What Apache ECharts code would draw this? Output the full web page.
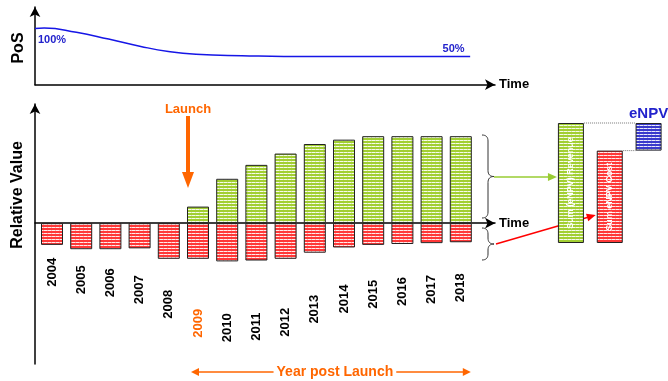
<!DOCTYPE html>
<html>
<head>
<meta charset="utf-8">
<script src="https://cdn.jsdelivr.net/npm/echarts@6/dist/echarts.min.js"></script>
<style>
  html, body { margin: 0; padding: 0; background: #fff; }
  #c { width: 668px; height: 381px; }
</style>
</head>
<body>
<div id="c"></div>
<script>
// ---- data ----
// probability of success over the development/commercial horizon (time as % of horizon)
const posTime  = [0, 2, 9, 16, 23, 29, 35, 45, 60, 91, 94.6];
const posValue = [100, 100.5, 93, 81, 68, 59, 54, 51.5, 50, 50, 50];

const years = ['2004', '2005', '2006', '2007', '2008', '2009', '2010', '2011',
               '2012', '2013', '2014', '2015', '2016', '2017', '2018'];
const launchYear = '2009';
// relative yearly revenue (positive) and cost (negative)
const revenue = ['-', '-', '-', '-', '-', 19, 51, 67, 80, 91, 96, 100, 100, 100, 100];
const cost    = [-25, -30, -30, -29, -41, -41, -44, -43, -41, -34, -28, -25, -24, -23, -22];

// summary waterfall
const npvCategories = ['Sum (eNPV) Revenue', 'Sum eNPV Cost', 'eNPV'];
const npvRevenue = 100;
const npvCost = 77;

// ---- layout ----
// how far each year label hangs below its cost bar
const yearLabelDrop = [13, 16, 19, 27, 31, 50, 52, 52, 49, 42, 37, 35, 33, 32, 31];

const FONT = '"Liberation Sans", Arial, sans-serif';
const ORANGE = '#FF6600';
const LINE_BLUE = '#1616E6';
const TEXT_BLUE = '#2222CC';

function stripes(base) {
  const c = document.createElement('canvas');
  c.width = 4; c.height = 3;
  const g = c.getContext('2d');
  g.fillStyle = base; g.fillRect(0, 0, 4, 3);
  g.fillStyle = 'rgba(255,255,255,0.9)'; g.fillRect(0, 2, 4, 1);
  g.fillStyle = base; g.globalAlpha = 0.35; g.fillRect(3, 2, 1, 1);
  return { image: c, repeat: 'repeat' };
}
const greenFill = stripes('#A2CF33');
const redFill = stripes('#FF3838');
const blueFill = stripes('#3A3ACC');

const arrowAxisLine = {
  show: true, onZero: true,
  symbol: ['none', 'arrow'], symbolSize: [8, 10],
  lineStyle: { color: '#000', width: 1.5 }
};
const timeName = {
  name: 'Time', nameLocation: 'end', nameGap: 4,
  nameTextStyle: { fontWeight: 'bold', fontSize: 13, color: '#000', fontFamily: FONT }
};
const bare = { axisTick: { show: false }, axisLabel: { show: false }, splitLine: { show: false } };

const chart = echarts.init(document.getElementById('c'));

chart.setOption({
  animation: false,
  textStyle: { fontFamily: FONT },
  grid: [
    { left: 35, top: 7, width: 460, height: 77.7 },      // PoS curve
    { left: 37.4, top: 104, width: 438, height: 260 },   // yearly bars
    { left: 35, top: 104, width: 460, height: 260 },     // axes of the yearly panel
    { left: 551.5, top: 123, width: 117, height: 120 }   // eNPV waterfall
  ],
  xAxis: [
    Object.assign({ gridIndex: 0, type: 'value', min: 0, max: 100, axisLine: arrowAxisLine }, bare, timeName),
    { gridIndex: 1, type: 'category', data: years, show: false },
    Object.assign({ gridIndex: 2, type: 'value', min: 0, max: 1, axisLine: arrowAxisLine }, bare, timeName),
    { gridIndex: 3, type: 'category', data: npvCategories, show: false }
  ],
  yAxis: [
    Object.assign({ gridIndex: 0, type: 'value', min: 0, max: 138, axisLine: arrowAxisLine }, bare),
    { gridIndex: 1, type: 'value', min: -162, max: 137, show: false },
    Object.assign({ gridIndex: 2, type: 'value', min: -162, max: 137, axisLine: arrowAxisLine }, bare),
    { gridIndex: 3, type: 'value', min: 0, max: 100, show: false }
  ],
  series: [
    {
      type: 'line', xAxisIndex: 0, yAxisIndex: 0,
      smooth: 0.5,
      symbol: 'circle', symbolSize: 2,
      itemStyle: { color: 'rgba(0,0,0,0)' },
      lineStyle: { color: LINE_BLUE, width: 1.5 },
      silent: true,
      data: posTime.map((t, i) => {
        const item = { value: [t, posValue[i]] };
        const lbl = { show: true, color: TEXT_BLUE, fontWeight: 'bold', fontSize: 11,
                      formatter: p => p.value[1] + '%' };
        if (i === 0) item.label = Object.assign(lbl, { position: [4, 13], align: 'left', verticalAlign: 'middle' });
        if (i === 9) item.label = Object.assign(lbl, { position: 'top', distance: 1 });
        return item;
      })
    },
    {
      type: 'bar', xAxisIndex: 1, yAxisIndex: 1,
      barWidth: 22, barGap: '-100%', silent: true,
      itemStyle: { color: greenFill, borderColor: '#222', borderWidth: 1 },
      data: revenue
    },
    {
      type: 'bar', xAxisIndex: 1, yAxisIndex: 1,
      barWidth: 22, barGap: '-100%', silent: true,
      itemStyle: { color: redFill, borderColor: '#222', borderWidth: 1 },
      label: {
        show: true, position: 'bottom', rotate: 90, align: 'right', verticalAlign: 'middle',
        fontWeight: 'bold', fontSize: 13, color: '#000',
        formatter: p => years[p.dataIndex]
      },
      data: cost.map((v, i) => ({
        value: v,
        label: { distance: yearLabelDrop[i], color: years[i] === launchYear ? ORANGE : '#000' }
      }))
    },
    {
      type: 'bar', xAxisIndex: 3, yAxisIndex: 3, stack: 'w', barWidth: 26, silent: true,
      itemStyle: { color: 'rgba(0,0,0,0)' },
      data: [0, 0, npvCost]
    },
    {
      type: 'bar', xAxisIndex: 3, yAxisIndex: 3, stack: 'w', barWidth: 26, silent: true,
      itemStyle: { borderColor: '#222', borderWidth: 1 },
      label: {
        show: true, position: 'inside', rotate: 90, color: '#fff',
        fontWeight: 'bold', fontSize: 9, formatter: p => p.name
      },
      data: [
        { value: npvRevenue, itemStyle: { color: greenFill } },
        { value: npvCost, itemStyle: { color: redFill } },
        { value: npvRevenue - npvCost, itemStyle: { color: blueFill },
          label: { position: 'top', rotate: 0, distance: 2, color: TEXT_BLUE, fontSize: 15 } }
      ]
    }
  ]
});

// ---- annotations ----
function arrow(x1, y1, x2, y2, color, w, head, hw) {
  const dx = x2 - x1, dy = y2 - y1, L = Math.hypot(dx, dy), ux = dx / L, uy = dy / L;
  const bx = x2 - ux * head, by = y2 - uy * head;
  return [
    { type: 'line', silent: true, shape: { x1: x1, y1: y1, x2: bx + ux, y2: by + uy },
      style: { stroke: color, lineWidth: w } },
    { type: 'polygon', silent: true,
      shape: { points: [[x2, y2], [bx - uy * hw, by + ux * hw], [bx + uy * hw, by - ux * hw]] },
      style: { fill: color } }
  ];
}

function quad(p0, c, p1, out) {
  for (let k = 1; k <= 8; k++) {
    const t = k / 8, a = (1 - t) * (1 - t), b = 2 * (1 - t) * t, d = t * t;
    out.push([a * p0[0] + b * c[0] + d * p1[0], a * p0[1] + b * c[1] + d * p1[1]]);
  }
}
// right-pointing curly brace between y0 and y1
function brace(x, y0, y1, w) {
  const r = Math.min(6, (y1 - y0) / 4), ym = (y0 + y1) / 2, xm = x + w / 2;
  const pts = [[x, y0]];
  quad([x, y0], [xm, y0], [xm, y0 + r], pts);
  pts.push([xm, ym - r]);
  quad([xm, ym - r], [xm, ym], [x + w, ym], pts);
  quad([x + w, ym], [xm, ym], [xm, ym + r], pts);
  pts.push([xm, y1 - r]);
  quad([xm, y1 - r], [xm, y1], [x, y1], pts);
  return { type: 'polyline', silent: true, shape: { points: pts },
           style: { stroke: '#333', lineWidth: 1, fill: null } };
}

function text(str, x, y, font, fill, rotation) {
  return { type: 'text', silent: true, x: x, y: y, rotation: rotation || 0,
           style: { text: str, font: font, fill: fill,
                    align: 'center', verticalAlign: 'middle',
                    textAlign: 'center', textVerticalAlign: 'middle' } };
}

const catX = i => chart.convertToPixel({ xAxisIndex: 1 }, i);
const xLaunch = catX(years.indexOf(launchYear));
const xLast = catX(years.length - 1);
const npvPix = (i, v) => chart.convertToPixel({ xAxisIndex: 3, yAxisIndex: 3 }, [i, v]);
const revTop = npvPix(0, npvRevenue);
const costTop = npvPix(1, npvCost);
const npvBar = npvPix(2, npvRevenue);

const g = [];
g.push(text('PoS', 19, 48, 'bold 16px ' + FONT, '#000', Math.PI / 2));
g.push(text('Relative Value', 18, 195, 'bold 16px ' + FONT, '#000', Math.PI / 2));

// launch marker
g.push(text('Launch', xLaunch - 10, 109, 'bold 13px ' + FONT, ORANGE));
g.push(...arrow(xLaunch - 10, 116, xLaunch - 10, 188, ORANGE, 4, 16, 6));

// year post launch span
const spanL = xLaunch - 7, spanR = xLast + 10, spanY = 372;
g.push(...arrow((spanL + spanR) / 2, spanY, spanL, spanY, ORANGE, 1.5, 8, 4));
g.push(...arrow((spanL + spanR) / 2, spanY, spanR, spanY, ORANGE, 1.5, 8, 4));
g.push({ type: 'text', silent: true, x: (spanL + spanR) / 2 + 4, y: spanY,
         style: { text: 'Year post Launch', font: 'bold 14px ' + FONT, fill: ORANGE,
                  backgroundColor: '#fff', padding: [0, 3],
                  align: 'center', verticalAlign: 'middle',
                  textAlign: 'center', textVerticalAlign: 'middle' } });

// braces and arrows into the waterfall
g.push(brace(482, 135, 218, 12));
g.push(brace(482, 228, 260, 12));
g.push(...arrow(494, 177, revTop[0] - 14, 177, '#99CC33', 1.5, 9, 4));
g.push(...arrow(496, 244, costTop[0] - 14, 215, '#FF0000', 1.5, 9, 4));

// dotted connectors to the eNPV bar
g.push({ type: 'line', silent: true,
         shape: { x1: revTop[0] + 13, y1: revTop[1], x2: npvBar[0] - 13, y2: revTop[1] },
         style: { stroke: '#777', lineWidth: 1, lineDash: [1, 1] } });
g.push({ type: 'line', silent: true,
         shape: { x1: costTop[0] + 13, y1: costTop[1], x2: npvBar[0] - 13, y2: costTop[1] },
         style: { stroke: '#777', lineWidth: 1, lineDash: [1, 1] } });

chart.setOption({ graphic: g });
</script>
</body>
</html>
